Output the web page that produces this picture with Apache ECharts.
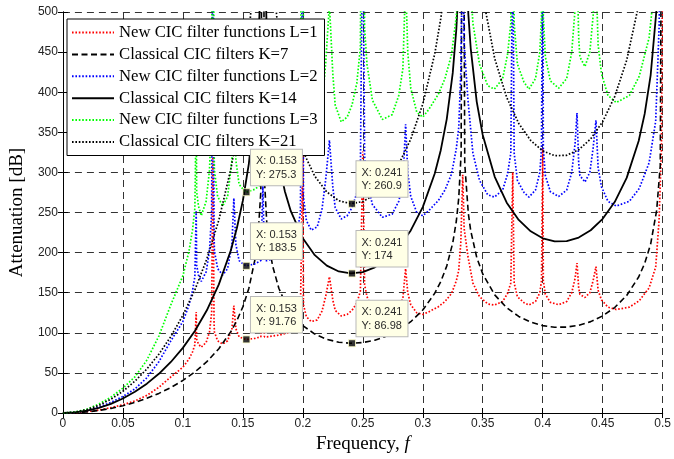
<!DOCTYPE html>
<html>
<head>
<meta charset="utf-8">
<script src="https://cdn.jsdelivr.net/npm/echarts@6/dist/echarts.min.js"></script>
<style>
  html, body { margin: 0; padding: 0; background: #fff; }
  #chart { width: 674px; height: 459px; }
</style>
</head>
<body>
<div id="chart"></div>
<script>
// frequencies sampled for the new CIC filter curves (L = 1, 2, 3)
const newFreq = [
  0, 0.01, 0.02, 0.03, 0.04, 0.05, 0.06, 0.07, 0.08, 0.09,
  0.1, 0.105, 0.108, 0.11, 0.1111, 0.1115, 0.113, 0.1153, 0.1194, 0.1222,
  0.124, 0.125, 0.126, 0.1263, 0.129, 0.1332, 0.1373, 0.1409, 0.1425, 0.1442,
  0.1469, 0.151, 0.153, 0.16, 0.165, 0.1667, 0.168, 0.17, 0.18, 0.19,
  0.195, 0.198, 0.2, 0.2005, 0.203, 0.207, 0.212, 0.216, 0.219, 0.2222,
  0.225, 0.227, 0.232, 0.237, 0.241, 0.245, 0.248, 0.25, 0.2515, 0.2535,
  0.258, 0.2663, 0.2745, 0.28, 0.2834, 0.2857, 0.2875, 0.29, 0.295, 0.3,
  0.3048, 0.313, 0.3185, 0.324, 0.328, 0.33, 0.3317, 0.3333, 0.3345, 0.3377,
  0.3418, 0.3473, 0.3542, 0.3597, 0.3666, 0.3707, 0.3734, 0.375, 0.3762, 0.3789,
  0.3844, 0.3885, 0.394, 0.3976, 0.399, 0.4, 0.4005, 0.4022, 0.4064, 0.4133,
  0.42, 0.4242, 0.427, 0.4286, 0.43, 0.431, 0.4352, 0.4393, 0.442, 0.4444,
  0.4462, 0.449, 0.4544, 0.4613, 0.4723, 0.4805, 0.4887, 0.4942, 0.497, 0.499, 0.5
];
const newL1 = [
  0, 0.4, 1.6, 3.7, 6.6, 10.3, 15, 22, 32, 45,
  57, 67, 76, 85, 126, 92, 86, 82, 88, 101,
  125, 330, 112, 101, 90, 86, 90, 105, 134, 105,
  95, 92.5, 91.76, 93, 95, 142, 95, 95, 97, 101,
  111, 125, 330, 135, 120, 114, 116, 127, 145, 170,
  141, 128, 121, 123, 128, 137, 152, 326, 160, 145,
  130, 122, 124, 132, 143, 180, 150, 135, 125, 123,
  126, 132.5, 139, 149, 165, 178, 212, 297, 230, 195,
  162, 145, 136, 134.6, 139, 149, 162, 300, 162, 145,
  137.5, 134.6, 139, 150, 165, 330, 165, 148, 138, 135,
  139, 150, 168, 187, 156, 148, 144, 150, 165, 182.5,
  153, 141, 132, 129, 132, 140, 156, 182, 240, 330, 600
];
const newL2 = [
  0, 0.8, 3.2, 7.4, 13.2, 20.6, 30, 44, 64, 90,
  114, 134, 152, 170, 252, 184, 172, 164, 176, 202,
  250, 660, 224, 202, 180, 172, 180, 210, 268, 210,
  190, 185, 183.5, 186, 190, 284, 190, 190, 194, 202,
  222, 250, 660, 270, 240, 228, 232, 254, 290, 340,
  282, 256, 242, 246, 256, 274, 304, 652, 320, 290,
  260, 244, 248, 264, 286, 360, 300, 270, 250, 246,
  252, 265, 278, 298, 330, 356, 424, 594, 460, 390,
  324, 290, 272, 269.2, 278, 298, 324, 600, 324, 290,
  275, 269.2, 278, 300, 330, 660, 330, 296, 276, 270,
  278, 300, 336, 374, 312, 296, 288, 300, 330, 365,
  306, 282, 264, 258, 264, 280, 312, 364, 480, 660, 1200
];
const newL3 = [
  0, 1.2, 4.8, 11.1, 19.8, 30.9, 45, 66, 96, 135,
  171, 201, 228, 255, 378, 276, 258, 246, 264, 303,
  375, 990, 336, 303, 270, 258, 270, 315, 402, 315,
  285, 277.5, 275.3, 279, 285, 426, 285, 285, 291, 303,
  333, 375, 990, 405, 360, 342, 348, 381, 435, 510,
  423, 384, 363, 369, 384, 411, 456, 978, 480, 435,
  390, 366, 372, 396, 429, 540, 450, 405, 375, 369,
  378, 397.5, 417, 447, 495, 534, 636, 891, 690, 585,
  486, 435, 408, 403.8, 417, 447, 486, 900, 486, 435,
  412.5, 403.8, 417, 450, 495, 990, 495, 444, 414, 405,
  417, 450, 504, 561, 468, 444, 432, 450, 495, 547.5,
  459, 423, 396, 387, 396, 420, 468, 546, 720, 990, 1800
];

// frequencies sampled for the classical CIC curves (K = 7, 14, 21)
const classicFreq = [
  0, 0.01, 0.02, 0.03, 0.04, 0.05, 0.06, 0.07, 0.08, 0.09,
  0.1, 0.11, 0.12, 0.13, 0.14, 0.145, 0.15, 0.155, 0.16, 0.163,
  0.165, 0.1667, 0.168, 0.17, 0.173, 0.175, 0.18, 0.185, 0.19, 0.2,
  0.21, 0.22, 0.23, 0.24, 0.25, 0.26, 0.27, 0.28, 0.29, 0.3,
  0.31, 0.315, 0.32, 0.325, 0.328, 0.33, 0.332, 0.3333, 0.335, 0.338,
  0.34, 0.345, 0.35, 0.36, 0.37, 0.38, 0.39, 0.4, 0.41, 0.42,
  0.43, 0.44, 0.45, 0.46, 0.47, 0.48, 0.485, 0.49, 0.495, 0.498, 0.5
];
const classicK7 = [
  0, 0.35, 1.41, 3.19, 5.71, 9.03, 13.2, 18.31, 24.45, 31.81,
  40.59, 51.16, 64.04, 80.17, 101.43, 115.15, 132.34, 155.33, 190.82, 228.13,
  276.64, 1000, 291.2, 236.18, 198.24, 182.28, 155.61, 138.32, 125.83, 108.94,
  98.4, 91.85, 88.23, 86.99, 87.87, 90.81, 95.89, 103.38, 113.84, 128.37,
  149.31, 163.87, 183.26, 212.03, 239.4, 268.1, 324.1, 1000, 310.8, 248.57,
  227.22, 193.97, 173.32, 147.28, 131.11, 120.37, 113.26, 108.94, 106.95, 107.11,
  109.4, 113.93, 121.07, 131.5, 146.58, 169.61, 186.48, 210.7, 252.63, 308.28, 1000
];
const classicK14 = [
  0, 0.7, 2.82, 6.37, 11.43, 18.07, 26.4, 36.61, 48.9, 63.62,
  81.19, 102.31, 128.07, 160.34, 202.86, 230.3, 264.67, 310.66, 381.64, 456.26,
  553.28, 1000, 582.4, 472.36, 396.48, 364.56, 311.22, 276.64, 251.65, 217.88,
  196.8, 183.71, 176.46, 173.98, 175.74, 181.62, 191.77, 206.77, 227.68, 256.73,
  298.62, 327.74, 366.52, 424.06, 478.8, 536.2, 648.2, 1000, 621.6, 497.14,
  454.44, 387.94, 346.64, 294.56, 262.22, 240.73, 226.52, 217.88, 213.91, 214.23,
  218.79, 227.86, 242.14, 263, 293.16, 339.22, 372.96, 421.4, 505.26, 616.56, 1000
];
const classicK21 = [
  0, 1.05, 4.23, 9.56, 17.14, 27.1, 39.61, 54.92, 73.35, 95.42,
  121.78, 153.47, 192.11, 240.51, 304.29, 345.45, 397, 465.99, 572.46, 684.4,
  829.9, 1000, 873.6, 708.5, 594.7, 546.8, 466.8, 414.96, 377.48, 326.82,
  295.2, 275.56, 264.68, 260.97, 263.61, 272.43, 287.66, 310.15, 341.52, 385.1,
  447.93, 491.61, 549.78, 636.1, 718.2, 804.3, 972.3, 1000, 932.4, 745.7,
  681.7, 581.9, 519.96, 441.84, 393.33, 361.1, 339.78, 326.82, 320.86, 321.34,
  328.19, 341.8, 363.22, 394.51, 439.74, 508.83, 559.44, 632.1, 757.9, 924.8, 1000
];

// data cursors shown on the figure
const tipX = [0.153, 0.153, 0.153, 0.241, 0.241, 0.241];
const tipY = [275.3, 183.5, 91.76, 260.9, 174, 86.98];

const seriesNames = [
  'New CIC filter functions L=1',
  'Classical CIC filters K=7',
  'New CIC filter functions L=2',
  'Classical CIC filters K=14',
  'New CIC filter functions L=3',
  'Classical CIC filters K=21'
];

const zip = (xs, ys) => xs.map((x, i) => [x, ys[i]]);

const dotted = [1.6, 1.8];
const dashed = [6, 3.5];

function curve(name, data, color, type, width) {
    return {
        name: name,
        type: 'line',
        data: data,
        symbol: 'none',
        clip: true,
        silent: true,
        z: 2,
        lineStyle: { color: color, width: width, type: type, cap: 'butt' },
        itemStyle: { color: color }
    };
}

const chart = echarts.init(document.getElementById('chart'), null, { renderer: 'canvas' });

const serif = 'Liberation Serif, Times New Roman, serif';
const axisText = { fontFamily: 'Liberation Sans, Arial, sans-serif', fontSize: 12, color: '#222' };
const gridDash = { color: '#333', width: 1, type: [7, 5] };

const option = {
    animation: false,
    backgroundColor: '#fff',
    grid: { left: 60, right: 8, top: 12, bottom: 46 },
    legend: {
        orient: 'vertical',
        left: 67,
        top: 19,
        padding: [5, 7, 5, 4],
        itemGap: 4.9,
        itemWidth: 42,
        itemHeight: 14,
        selectedMode: false,
        backgroundColor: '#fff',
        borderColor: '#000',
        borderWidth: 1,
        z: 4,
        itemStyle: { opacity: 0 },
        textStyle: { fontFamily: serif, fontSize: 16.7, color: '#000' },
        data: seriesNames
    },
    xAxis: [{
        type: 'value',
        min: 0,
        max: 0.5,
        interval: 0.05,
        name: 'Frequency, {i|f}',
        nameLocation: 'middle',
        nameGap: 18,
        nameTextStyle: {
            fontFamily: serif,
            fontSize: 19,
            color: '#000',
            rich: { i: { fontFamily: serif, fontSize: 19, fontStyle: 'italic', color: '#000' } }
        },
        axisLine: { lineStyle: { color: '#000', width: 1 } },
        axisTick: { inside: true, length: 5, lineStyle: { color: '#000' } },
        axisLabel: Object.assign({ margin: 5 }, axisText),
        splitLine: { show: true, lineStyle: gridDash }
    }, {
        type: 'value',
        position: 'top',
        min: 0,
        max: 0.5,
        interval: 0.05,
        axisLine: { lineStyle: { color: '#000', width: 1 } },
        axisTick: { inside: true, length: 5, lineStyle: { color: '#000' } },
        axisLabel: { show: false },
        splitLine: { show: false }
    }],
    yAxis: [{
        type: 'value',
        min: 0,
        max: 500,
        interval: 50,
        name: 'Attenuation [dB]',
        nameLocation: 'middle',
        nameGap: 32,
        nameTextStyle: { fontFamily: serif, fontSize: 19, color: '#000' },
        axisLine: { show: true, lineStyle: { color: '#000', width: 1 } },
        axisTick: { show: true, inside: true, length: 5, lineStyle: { color: '#000' } },
        axisLabel: Object.assign({ margin: 5 }, axisText),
        splitLine: { show: true, lineStyle: gridDash }
    }, {
        type: 'value',
        position: 'right',
        min: 0,
        max: 500,
        interval: 50,
        axisLine: { show: true, lineStyle: { color: '#000', width: 1 } },
        axisTick: { show: true, inside: true, length: 5, lineStyle: { color: '#000' } },
        axisLabel: { show: false },
        splitLine: { show: false }
    }],
    series: [
        curve(seriesNames[0], zip(newFreq, newL1), '#ff0000', dotted, 1.7),
        curve(seriesNames[1], zip(classicFreq, classicK7), '#000000', dashed, 1.6),
        curve(seriesNames[2], zip(newFreq, newL2), '#0000ff', dotted, 1.7),
        curve(seriesNames[3], zip(classicFreq, classicK14), '#000000', 'solid', 1.8),
        curve(seriesNames[4], zip(newFreq, newL3), '#00ff00', dotted, 1.7),
        curve(seriesNames[5], zip(classicFreq, classicK21), '#000000', dotted, 1.7),
        {
            name: 'datatips',
            type: 'scatter',
            data: zip(tipX, tipY),
            symbol: 'rect',
            symbolSize: 7,
            silent: true,
            z: 5,
            itemStyle: { color: '#000', borderColor: '#ffffc8', borderWidth: 1 },
            label: {
                show: true,
                position: [8.5, -38.5],
                formatter: p => 'X: ' + p.value[0] + '\nY: ' + p.value[1],
                fontFamily: 'Liberation Sans, Arial, sans-serif',
                fontSize: 11,
                lineHeight: 13.3,
                color: '#2a2a2a',
                opacity: 1,
                backgroundColor: '#ffffe6',
                borderColor: '#b8b8b8',
                borderWidth: 1,
                padding: [5, 5, 4, 5]
            }
        }
    ]
};

chart.setOption(option);
</script>
</body>
</html>
